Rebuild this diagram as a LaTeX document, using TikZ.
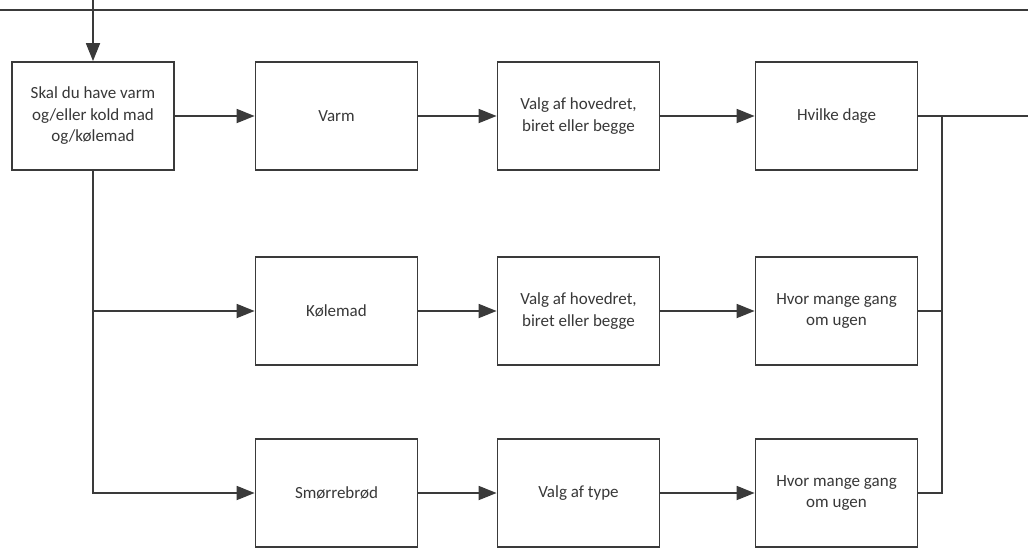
\documentclass[tikz,border=0pt]{standalone}
\usepackage{fontspec}
\setmainfont{Carlito}
\usetikzlibrary{arrows.meta}
\definecolor{ln}{HTML}{3A3A3A}
\definecolor{tx}{HTML}{383838}
\begin{document}
\begin{tikzpicture}[x=1pt,y=-1pt,
  box/.style={draw=ln,line width=1.8pt,minimum width=162pt,minimum height=108pt,inner sep=2pt,
    align=center,text=tx,font=\fontsize{17}{21.5}\selectfont,fill=white},
  conn/.style={draw=ln,line width=1.8pt},
  arr/.style={conn,-{Triangle[length=18pt,width=14pt]}}]
\useasboundingbox (0,0) rectangle (1028,547);
\node[box] (q) at (93,116) {Skal du have varm\\og/eller kold mad\\og/kølemad};
\node[box] (v) at (336.5,116) {Varm};
\node[box] (v2) at (578.5,116) {Valg af hovedret,\\biret eller begge};
\node[box] (d1) at (836.5,116) {Hvilke dage};
\node[box] (k) at (336.5,311) {Kølemad};
\node[box] (k2) at (578.5,311) {Valg af hovedret,\\biret eller begge};
\node[box] (d2) at (836.5,311) {Hvor mange gang\\om ugen};
\node[box] (s) at (336.5,493) {Smørrebrød};
\node[box] (s2) at (578.5,493) {Valg af type};
\node[box] (d3) at (836.5,493) {Hvor mange gang\\om ugen};
% loop back line at top
\coordinate (tl) at (0,10);
\coordinate (tr) at (1028,10);
\coordinate (tin) at (93,0);
\draw[conn] (tl) -- (tr);
\draw[arr] (tin) -- (q.north);
% row arrows
\draw[arr] (q.east) -- (v.west);
\draw[arr] (v.east) -- (v2.west);
\draw[arr] (v2.east) -- (d1.west);
\draw[arr] (k.east) -- (k2.west);
\draw[arr] (k2.east) -- (d2.west);
\draw[arr] (s.east) -- (s2.west);
\draw[arr] (s2.east) -- (d3.west);
% left branches
\draw[arr] (q.south) |- (s.west);
\draw[arr] (q.south |- k.west) -- (k.west);
% right merge
\coordinate (rout) at (1028,116);
\coordinate (rm) at (942,116);
\draw[conn] (d1.east) -- (rout);
\draw[conn] (d3.east) -| (rm);
\draw[conn] (d2.east) -- (rm |- d2.east);
\end{tikzpicture}
\end{document}
